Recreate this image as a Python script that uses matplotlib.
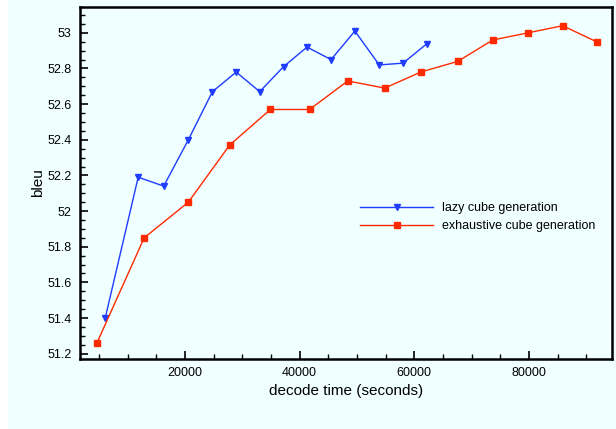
#!/usr/bin/env python3
"""BLEU vs decode time for lazy and exhaustive cube generation."""

import matplotlib
matplotlib.use("Agg")
import matplotlib.pyplot as plt
from matplotlib.patches import Rectangle
from matplotlib.ticker import MultipleLocator

# lazy cube generation
lazy_time = [6100, 11850, 16300, 20600, 24800, 28950, 33050, 37200,
             41300, 45500, 49650, 53900, 58050, 62250]
lazy_bleu = [51.40, 52.19, 52.14, 52.40, 52.67, 52.78, 52.67, 52.81,
             52.92, 52.85, 53.01, 52.82, 52.83, 52.94]

# exhaustive cube generation
exh_time = [4650, 12900, 20600, 27800, 34900, 41750, 48400, 54850,
            61150, 67600, 73700, 79850, 85900, 91800]
exh_bleu = [51.26, 51.85, 52.05, 52.37, 52.57, 52.57, 52.73, 52.69,
            52.78, 52.84, 52.96, 53.00, 53.04, 52.95]

BG = "#f0ffff"

plt.rcParams["font.family"] = ["Liberation Sans", "DejaVu Sans"]

fig = plt.figure(figsize=(6.16, 4.29), dpi=100, facecolor=BG)
# thin white strip on the left edge
fig.patches.append(Rectangle((0, 0), 8 / 616, 1, transform=fig.transFigure,
                             facecolor="white", edgecolor="none", zorder=-1))

ax = fig.add_axes([80 / 616, 1 - 359 / 429, 532 / 616, 352 / 429])
ax.set_facecolor(BG)

ax.plot(lazy_time, lazy_bleu, color="#1f3cff", linewidth=1.0, marker="v",
        markersize=5, label="lazy cube generation")
ax.plot(exh_time, exh_bleu, color="#ff2a00", linewidth=1.0, marker="s",
        markersize=4.5, label="exhaustive cube generation")

ax.set_xlim(1700, 94500)
ax.set_ylim(51.17, 53.145)

ax.xaxis.set_major_locator(MultipleLocator(20000))
ax.xaxis.set_minor_locator(MultipleLocator(5000))
ax.yaxis.set_major_locator(MultipleLocator(0.2))
ax.yaxis.set_minor_locator(MultipleLocator(0.05))
ax.yaxis.set_major_formatter(plt.FuncFormatter(lambda v, p: f"{v:g}"))

ax.tick_params(which="both", direction="in", top=False, right=False,
               labelsize=9, color="black")
ax.tick_params(which="major", length=6, width=1.2, pad=6)
ax.tick_params(which="minor", length=3.5, width=1.0)

for sp in ax.spines.values():
    sp.set_linewidth(1.8)

ax.set_xlabel("decode time (seconds)", fontsize=11, labelpad=3)
ax.set_ylabel("bleu", fontsize=11, labelpad=2)

ax.legend(loc="upper left", bbox_to_anchor=(0.527, 0.445), frameon=False,
          fontsize=9, handlelength=5.8, handletextpad=0.7, labelspacing=0.45,
          borderaxespad=0, borderpad=0)

fig.savefig("out.png", dpi=100, facecolor=BG)
